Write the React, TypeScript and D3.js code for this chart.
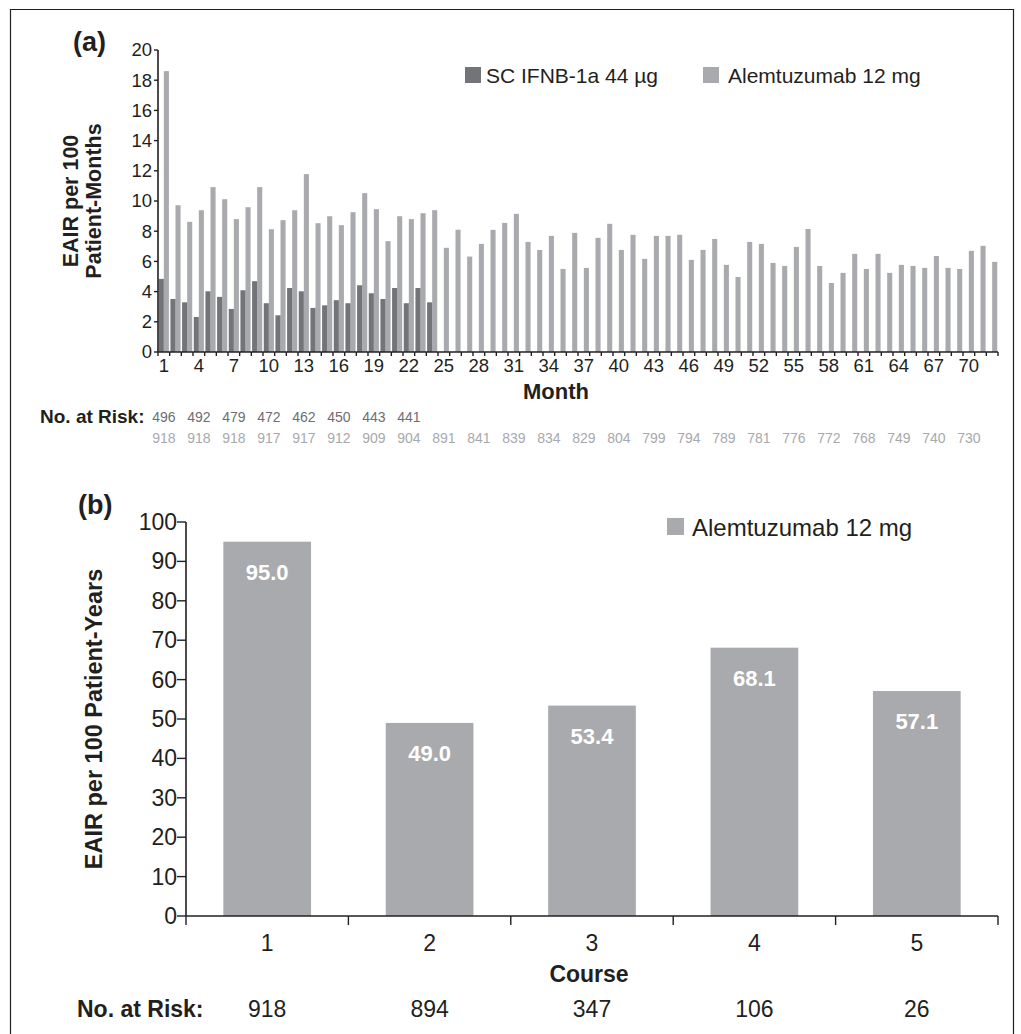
import React from "react";
import * as d3 from "d3";

// ---------- Panel (a) data ----------
const months: number[] = d3.range(1, 73);
const monthTickLabels: number[] = [1, 4, 7, 10, 13, 16, 19, 22, 25, 28, 31, 34, 37, 40, 43, 46, 49, 52, 55, 58, 61, 64, 67, 70];
const ifnbValues: number[] = [
  4.84, 3.51, 3.29, 2.32, 4.02, 3.65, 2.85, 4.09, 4.69, 3.23, 2.43, 4.24,
  4.02, 2.92, 3.09, 3.43, 3.23, 4.42, 3.89, 3.51, 4.24, 3.23, 4.24, 3.29,
];
const alemValues: number[] = [
  18.6, 9.72, 8.62, 9.39, 10.92, 10.12, 8.8, 9.59, 10.92, 8.13, 8.73, 9.39,
  11.78, 8.53, 8.99, 8.4, 9.26, 10.52, 9.46, 7.34, 8.99, 8.8, 9.19, 9.39,
  6.9, 8.1, 6.32, 7.16, 8.09, 8.55, 9.15, 7.29, 6.76, 7.69, 5.5, 7.89,
  5.57, 7.56, 8.49, 6.76, 7.76, 6.17, 7.69, 7.69, 7.76, 6.1, 6.76, 7.49,
  5.77, 4.97, 7.29, 7.16, 5.9, 5.7, 6.96, 8.15, 5.7, 4.57, 5.24, 6.5,
  5.5, 6.5, 5.24, 5.77, 5.7, 5.57, 6.36, 5.57, 5.5, 6.7, 7.03, 5.97,
];
const yTicksA: number[] = [0, 2, 4, 6, 8, 10, 12, 14, 16, 18, 20];
const riskIfnb: number[] = [496, 492, 479, 472, 462, 450, 443, 441];
const riskAlemA: number[] = [918, 918, 918, 917, 917, 912, 909, 904, 891, 841, 839, 834, 829, 804, 799, 794, 789, 781, 776, 772, 768, 749, 740, 730];

// ---------- Panel (b) data ----------
const courses: string[] = ["1", "2", "3", "4", "5"];
const courseValues: number[] = [95.0, 49.0, 53.4, 68.1, 57.1];
const courseRisk: number[] = [918, 894, 347, 106, 26];
const yTicksB: number[] = [0, 10, 20, 30, 40, 50, 60, 70, 80, 90, 100];

const FONT = "'Liberation Sans', Arial, Helvetica, sans-serif";
const DARK = "#737477";
const LIGHT = "#a9aaad";
const INK = "#231f20";

export default function App() {
  // Panel (a) scales
  const ax0 = 158, ax1 = 998, ayTop = 50, ayBot = 352;
  const xA = d3.scaleBand<number>().domain(months).range([ax0, ax1]).paddingInner(0).paddingOuter(0);
  const inner = d3.scaleBand<string>().domain(["ifnb", "alem"]).range([0, xA.bandwidth()]).paddingInner(0).paddingOuter(0.15);
  const yA = d3.scaleLinear().domain([0, 20]).range([ayBot, ayTop]);

  // Panel (b) scales
  const bx0 = 186, bx1 = 998, byTop = 522, byBot = 916;
  const xB = d3.scaleBand<string>().domain(courses).range([bx0, bx1]).paddingInner(0.46).paddingOuter(0.23);
  const yB = d3.scaleLinear().domain([0, 100]).range([byBot, byTop]);
  const stepB = (bx1 - bx0) / courses.length;

  const monthCenter = (m: number) => (xA(m) as number) + xA.bandwidth() / 2;

  return (
    <svg width={1021} height={1034} style={{ position: "absolute", left: 0, top: 0, background: "#fff" }} fontFamily={FONT}>
      <rect x={0} y={0} width={1021} height={1034} fill="#fff" />
      {/* frame */}
      <path d="M10.5,1040 V9.5 H1013.5 V1040" fill="none" stroke={INK} strokeWidth={1.2} />

      {/* ================= Panel (a) ================= */}
      <text x={73} y={51} fontSize={27} fontWeight="bold" fill={INK}>(a)</text>

      {/* bars */}
      {alemValues.map((v, i) => (
        <rect key={"al" + i} x={(xA(months[i]) as number) + (inner("alem") as number)} y={yA(v)}
          width={inner.bandwidth()} height={ayBot - yA(v)} fill={LIGHT} />
      ))}
      {ifnbValues.map((v, i) => (
        <rect key={"if" + i} x={(xA(months[i]) as number) + (inner("ifnb") as number)} y={yA(v)}
          width={inner.bandwidth()} height={ayBot - yA(v)} fill={DARK} />
      ))}

      {/* y axis */}
      <line x1={ax0} x2={ax0} y1={ayTop} y2={ayBot} stroke={INK} strokeWidth={1.6} />
      {yTicksA.map((t) => (
        <g key={"ya" + t}>
          <line x1={ax0 - 4} x2={ax0} y1={yA(t)} y2={yA(t)} stroke={INK} strokeWidth={1.4} />
          <text x={ax0 - 6} y={yA(t)} dy="0.35em" fontSize={18.5} textAnchor="end" fill={INK}>{t}</text>
        </g>
      ))}
      {/* x axis */}
      <line x1={ax0} x2={ax1} y1={ayBot} y2={ayBot} stroke={INK} strokeWidth={1.6} />
      {[...months.map((m) => xA(m) as number), ax1].map((x, i) => (
        <line key={"xt" + i} x1={x} x2={x} y1={ayBot} y2={ayBot + 4} stroke={INK} strokeWidth={1.4} />
      ))}
      {monthTickLabels.map((m) => (
        <text key={"ml" + m} x={monthCenter(m)} y={372} fontSize={18.5} textAnchor="middle" fill={INK}>{m}</text>
      ))}
      <text x={556} y={399} fontSize={22} fontWeight="bold" textAnchor="middle" fill={INK}>Month</text>

      {/* y title */}
      <text transform={`translate(78,${(ayTop + ayBot) / 2}) rotate(-90)`} fontSize={21.5} fontWeight="bold" textAnchor="middle" fill={INK}>EAIR per 100</text>
      <text transform={`translate(101,${(ayTop + ayBot) / 2}) rotate(-90)`} fontSize={21.5} fontWeight="bold" textAnchor="middle" fill={INK}>Patient-Months</text>

      {/* legend (a) */}
      <rect x={465} y={67} width={16} height={16} fill={DARK} />
      <text x={486} y={83} fontSize={21} fill={INK}>SC IFNB-1a 44 µg</text>
      <rect x={703} y={67} width={16} height={16} fill={LIGHT} />
      <text x={728} y={83} fontSize={21} fill={INK}>Alemtuzumab 12 mg</text>

      {/* at risk (a) */}
      <text x={40} y={423} fontSize={19} fontWeight="bold" fill={INK}>No. at Risk:</text>
      {riskIfnb.map((n, i) => (
        <text key={"ri" + i} x={monthCenter(monthTickLabels[i])} y={422} fontSize={14} textAnchor="middle" fill="#6d6e71">{n}</text>
      ))}
      {riskAlemA.map((n, i) => (
        <text key={"ra" + i} x={monthCenter(monthTickLabels[i])} y={443} fontSize={14} textAnchor="middle" fill="#a7a9ac">{n}</text>
      ))}

      {/* ================= Panel (b) ================= */}
      <text x={78} y={514} fontSize={27} fontWeight="bold" fill={INK}>(b)</text>

      {courseValues.map((v, i) => (
        <g key={"cb" + i}>
          <rect x={xB(courses[i]) as number} y={yB(v)} width={xB.bandwidth()} height={byBot - yB(v)} fill={LIGHT} />
          <text x={(xB(courses[i]) as number) + xB.bandwidth() / 2} y={yB(v) + 38} fontSize={22} fontWeight="bold" textAnchor="middle" fill="#fff">{v.toFixed(1)}</text>
        </g>
      ))}

      {/* y axis */}
      <line x1={bx0} x2={bx0} y1={byTop} y2={byBot} stroke={INK} strokeWidth={1.6} />
      {yTicksB.map((t) => (
        <g key={"yb" + t}>
          <line x1={bx0 - 9} x2={bx0} y1={yB(t)} y2={yB(t)} stroke={INK} strokeWidth={1.4} />
          <text x={bx0 - 9} y={yB(t)} dy="0.35em" fontSize={23} textAnchor="end" fill={INK}>{t}</text>
        </g>
      ))}
      {/* x axis */}
      <line x1={bx0} x2={bx1} y1={byBot} y2={byBot} stroke={INK} strokeWidth={1.6} />
      {d3.range(courses.length + 1).map((i) => (
        <line key={"bt" + i} x1={bx0 + i * stepB} x2={bx0 + i * stepB} y1={byBot} y2={byBot + 9} stroke={INK} strokeWidth={1.4} />
      ))}
      {courses.map((c) => (
        <text key={"cl" + c} x={(xB(c) as number) + xB.bandwidth() / 2} y={951} fontSize={23} textAnchor="middle" fill={INK}>{c}</text>
      ))}
      <text x={589} y={982} fontSize={23} fontWeight="bold" textAnchor="middle" fill={INK}>Course</text>

      <text transform={`translate(102,${(byTop + byBot) / 2}) rotate(-90)`} fontSize={23.5} fontWeight="bold" textAnchor="middle" fill={INK}>EAIR per 100 Patient-Years</text>

      {/* legend (b) */}
      <rect x={667} y={518} width={17} height={17} fill={LIGHT} />
      <text x={692} y={536} fontSize={24} fill={INK}>Alemtuzumab 12 mg</text>

      {/* at risk (b) */}
      <text x={77} y={1017} fontSize={23} fontWeight="bold" fill={INK}>No. at Risk:</text>
      {courseRisk.map((n, i) => (
        <text key={"cr" + i} x={(xB(courses[i]) as number) + xB.bandwidth() / 2} y={1017} fontSize={23} textAnchor="middle" fill={INK}>{n}</text>
      ))}
    </svg>
  );
}
